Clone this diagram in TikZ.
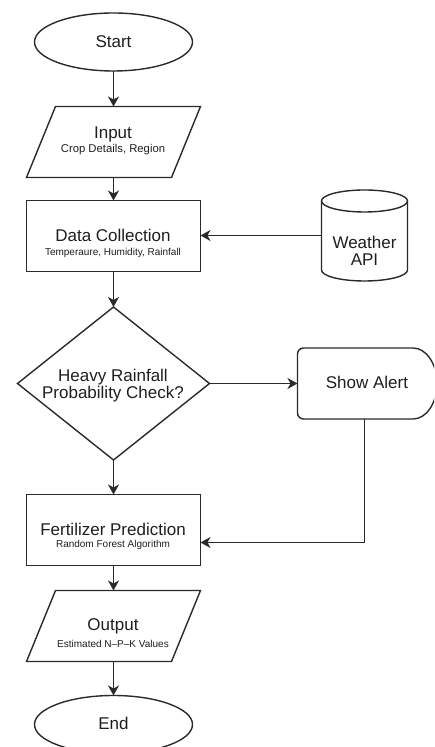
\documentclass[tikz,border=0pt]{standalone}
\usepackage{fontspec}
\setmainfont{Liberation Sans}
\usetikzlibrary{shapes.geometric,arrows.meta}
\definecolor{ln}{HTML}{2A2A2A}
\definecolor{tx}{HTML}{1E1E1E}
\tikzset{
  line/.style={draw=ln, line width=1.4pt},
  arr/.style={line, -{Stealth[length=10pt,width=11pt,inset=3pt]}},
  anch/.style={rectangle, inner sep=0pt, outer sep=0pt},
  boxnode/.style={anch, line, minimum width=174pt, minimum height=71pt},
  parnode/.style={anch, minimum width=174pt, minimum height=71pt},
  termnode/.style={ellipse, line, inner sep=0pt, outer sep=0pt, minimum width=158pt, minimum height=58pt},
  bigtxt/.style={anchor=base, inner sep=0pt, text=tx, font=\fontsize{17}{20}\selectfont},
  smalltxt/.style={anchor=base, inner sep=0pt, text=tx, font=\fontsize{10}{12}\selectfont},
}
\begin{document}
\begin{tikzpicture}[x=1pt,y=1pt]
\path[use as bounding box, clip] (0,0) rectangle (434,747);

% shapes
\node[termnode] (start) at (113.5,705) {};
\node[parnode] (input) at (113.5,605) {};
\draw[line] ([xshift=29pt]input.north west) -- (input.north east) -- ([xshift=-29pt]input.south east) -- (input.south west) -- cycle;
\node[boxnode] (data) at (113.5,511) {};
\node[anch, minimum width=86pt, minimum height=91pt] (weather) at (364.5,511.5) {};
\draw[line] (321.5,546) -- (321.5,477) arc[start angle=180, end angle=360, x radius=43pt, y radius=11pt] -- (407.5,546);
\draw[line] (364.5,546) ellipse [x radius=43pt, y radius=11pt];
\node[diamond, line, inner sep=0pt, outer sep=0pt, minimum width=192pt, minimum height=153pt] (dec) at (113.5,363.5) {};
\node[anch, minimum width=139pt, minimum height=71pt] (alert) at (367,363.5) {};
\draw[line] (413,328) -- (303.5,328) arc[start angle=270, end angle=180, radius=6pt] -- (297.5,393) arc[start angle=180, end angle=90, radius=6pt] -- (413,399) arc[start angle=90, end angle=-90, x radius=24pt, y radius=35.5pt] -- cycle;
\node[boxnode] (fert) at (113.5,217) {};
\node[parnode] (output) at (113.5,121) {};
\draw[line] ([xshift=29pt]output.north west) -- (output.north east) -- ([xshift=-29pt]output.south east) -- (output.south west) -- cycle;
\node[termnode] (end) at (113.5,22.5) {};

% texts
\node[bigtxt] (tstart) at (113.5,699.5) {Start};
\node[bigtxt] (tinput) at (113,608) {Input};
\node[smalltxt, font=\fontsize{11.3}{13}\selectfont] (sinput) at (113,594.5) {Crop Details, Region};
\node[bigtxt] (tdata) at (113,505.3) {Data Collection};
\node[smalltxt] (sdata) at (113,491) {Temperaure, Humidity, Rainfall};
\node[bigtxt] (tweather) at (364.5,498.7) {Weather};
\node[bigtxt] (tapi) at (364.5,481) {API};
\node[bigtxt] (tdec1) at (113,365.7) {Heavy Rainfall};
\node[bigtxt] (tdec2) at (113,348) {Probability Check?};
\node[bigtxt] (talert) at (367,358.7) {Show Alert};
\node[bigtxt] (tfert) at (113,211) {Fertilizer Prediction};
\node[smalltxt] (sfert) at (113,199.5) {Random Forest Algorithm};
\node[bigtxt] (toutput) at (113,116.3) {Output};
\node[smalltxt] (soutput) at (113,99.3) {Estimated N–P–K Values};
\node[bigtxt] (tend) at (113.5,17) {End};

% connectors
\draw[arr] (start.south) -- (input.north);
\draw[arr] (input.south) -- (data.north);
\draw[arr] (weather.west |- 0,511.5) -- (data.east |- 0,511.5);
\draw[arr] (data.south) -- (dec.north);
\draw[arr] (dec.east) -- (alert.west);
\draw[arr] (dec.south) -- (fert.north);
\coordinate (fin) at (200.5,204.5);
\draw[arr] ([xshift=-2.5pt]alert.south) |- (fin);
\draw[arr] (fert.south) -- (output.north);
\draw[arr] (output.south) -- (end.north);
\end{tikzpicture}
\end{document}
